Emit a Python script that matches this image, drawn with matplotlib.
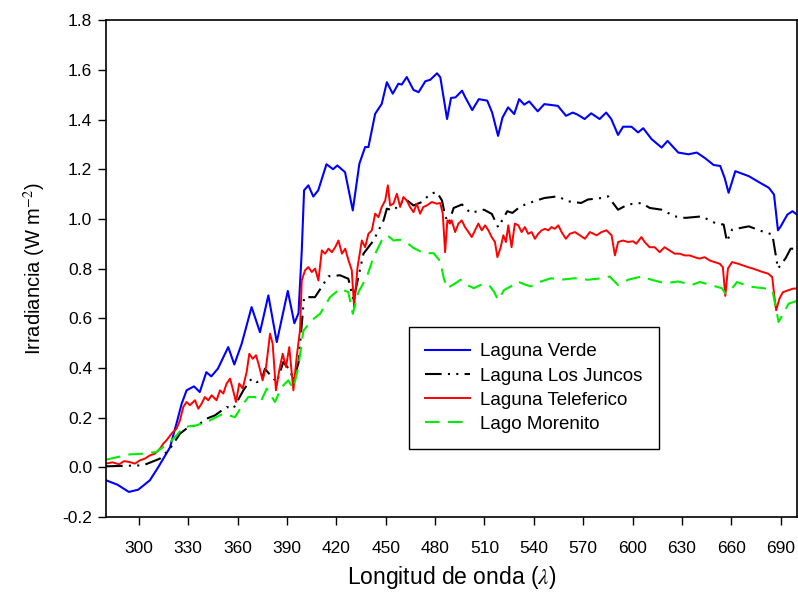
import numpy as np
import matplotlib.pyplot as plt

plt.rcParams['font.family'] = ['Liberation Sans', 'DejaVu Sans']
plt.rcParams['mathtext.fontset'] = 'stix'

# Laguna Verde
wl_verde = [280, 287, 293.9, 299.6, 306.7, 311.7, 318.9, 323, 326, 329, 333.5, 337, 341, 344, 348,
            354.3, 358, 362.5, 368.5, 373.6, 378.7, 383.8, 390.5, 394.5, 397, 399, 400.4, 403, 406,
            409, 414, 418, 420.6, 425.3, 430, 434, 437.5, 439.5, 443.6, 447.6, 450.7, 454.3, 457.7,
            459.8, 462.8, 466.9, 470, 474.1, 477.1, 481.2, 483.2, 487.3, 489.7, 492.4, 496.4, 498.4,
            502.6, 506.6, 511.7, 514.7, 518.3, 521, 524.4, 528.1, 531.1, 534.2, 537.2, 542.4, 546.4,
            554.6, 559.6, 563.7, 566.8, 570.9, 574.9, 580, 584, 587.1, 591.2, 594.3, 599.4, 603.4,
            606.5, 611.6, 617.7, 621.3, 627.8, 634, 639.1, 644.2, 649.3, 653.3, 656, 658.4, 662.5,
            670.7, 675.8, 682.9, 686, 688.4, 690.1, 694.1, 697.2, 700]
irr_verde = [-0.052, -0.07, -0.099, -0.09, -0.052, 0.0, 0.08, 0.18, 0.256, 0.31, 0.326, 0.303, 0.383,
             0.366, 0.397, 0.484, 0.414, 0.498, 0.645, 0.544, 0.692, 0.504, 0.71, 0.58, 0.62, 0.873,
             1.115, 1.135, 1.09, 1.115, 1.22, 1.20, 1.215, 1.188, 1.034, 1.222, 1.289, 1.289, 1.423,
             1.463, 1.55, 1.504, 1.544, 1.541, 1.571, 1.519, 1.51, 1.554, 1.56, 1.586, 1.57, 1.402,
             1.487, 1.489, 1.516, 1.489, 1.438, 1.482, 1.476, 1.428, 1.334, 1.408, 1.449, 1.422, 1.482,
             1.46, 1.473, 1.433, 1.462, 1.455, 1.415, 1.428, 1.419, 1.402, 1.425, 1.402, 1.428, 1.402,
             1.338, 1.371, 1.371, 1.348, 1.365, 1.321, 1.287, 1.314, 1.267, 1.26, 1.267, 1.244, 1.217,
             1.213, 1.165, 1.105, 1.192, 1.172, 1.152, 1.125, 1.098, 0.954, 0.97, 1.017, 1.031, 1.017]

# Laguna Los Juncos
wl_juncos = [280, 302.6, 312.8, 318.9, 325, 329, 337.1, 341.2, 346.2, 353.3, 357.4, 363.5, 368.5,
             371.6, 374.6, 376.6, 380, 383.8, 387.8, 391.9, 393.9, 397, 400.4, 407, 410.5, 415.2,
             422.3, 427.3, 430.4, 436.5, 442.6, 448.7, 450.7, 454.8, 461.8, 466.9, 472, 477.1, 481.1,
             484.2, 486.2, 488.3, 491.3, 496.4, 501.5, 509.7, 514.5, 518.4, 523.9, 527, 532.1, 540.2,
             546.4, 554.6, 560.6, 568.8, 572.9, 581, 585.1, 591.2, 597.3, 605.4, 610.5, 617.7, 625.8,
             632, 642.1, 650.3, 655.4, 657.4, 660.5, 670.7, 678.8, 685, 688.4, 693.1, 696.1, 700]
irr_juncos = [0.004, 0.008, 0.035, 0.075, 0.136, 0.156, 0.176, 0.196, 0.209, 0.243, 0.236, 0.31,
              0.357, 0.343, 0.35, 0.397, 0.37, 0.343, 0.424, 0.39, 0.35, 0.42, 0.685, 0.685, 0.72,
              0.769, 0.773, 0.759, 0.675, 0.86, 0.913, 0.994, 1.041, 1.034, 1.081, 1.054, 1.068,
              1.101, 1.108, 1.074, 1.01, 0.983, 1.044, 1.058, 1.024, 1.037, 1.02, 0.966, 1.031, 1.024,
              1.051, 1.071, 1.084, 1.091, 1.071, 1.064, 1.078, 1.084, 1.091, 1.037, 1.058, 1.064,
              1.044, 1.037, 1.01, 1.004, 1.01, 0.983, 0.977, 0.909, 0.957, 0.97, 0.95, 0.937, 0.80,
              0.842, 0.88, 0.88]

# Laguna Teleferico
wl_tele = [280, 284, 288, 291, 294.5, 297.6, 300.6, 303.6, 306.7, 309.7, 312.8, 314.8, 316.8, 319.9,
           322.9, 325, 327, 329, 331, 334.1, 336.1, 338.1, 340.1, 342.2, 344.2, 347.2, 349.3, 351.3,
           353.3, 355.4, 357, 359, 361, 363.1, 365.5, 367.1, 369.2, 371.2, 373.2, 375.2, 377.3,
           379.7, 381.3, 383.3, 385.3, 387.4, 389.4, 391.4, 393.9, 395.9, 397.9, 399, 401, 403,
           405.1, 407.1, 409.1, 411.2, 413.2, 415.2, 417.3, 419.3, 421.3, 423.4, 425.4, 427.4,
           429.4, 430.8, 432.9, 435.5, 437.5, 439.5, 441.6, 443.6, 445.6, 447.6, 449.7, 451.3,
           452.7, 454.7, 456.8, 458.8, 460.8, 462.8, 464.8, 466.9, 468.9, 470.9, 472.9, 475, 478,
           481.1, 483.1, 484.7, 486.1, 487.5, 489.1, 490.1, 492.2, 494.2, 496.2, 498.2, 500.3,
           502.3, 504.3, 506.3, 508.4, 510.4, 512.4, 514.4, 516.4, 517.9, 519.9, 521.5, 523.1,
           524.5, 526.5, 528.5, 530.6, 532.6, 534.6, 536.6, 538.7, 540.7, 542.7, 544.8, 546.8,
           548.8, 550.8, 552.8, 554.9, 556.9, 559.5, 561.9, 565, 568, 571.1, 574.1, 578.2, 581.2,
           584.2, 587.3, 589.3, 591.3, 594.2, 597.2, 600.3, 602.3, 605.4, 607.4, 610.4, 613.5,
           616.5, 619.5, 622.6, 625.6, 628.6, 631.7, 634.7, 637.7, 640.8, 643.8, 646.8, 649.9,
           652.9, 654.9, 656.4, 658, 660.5, 664, 667.1, 670.1, 673.2, 676.2, 679.2, 682.3, 684.9,
           686.3, 687.3, 689.3, 691.4, 694.4, 697.4, 700]
irr_tele = [0.015, 0.02, 0.012, 0.025, 0.021, 0.015, 0.028, 0.035, 0.048, 0.055, 0.075, 0.095,
            0.109, 0.136, 0.156, 0.19, 0.243, 0.263, 0.25, 0.27, 0.236, 0.256, 0.283, 0.27, 0.29,
            0.27, 0.31, 0.297, 0.337, 0.357, 0.317, 0.263, 0.337, 0.317, 0.384, 0.457, 0.437,
            0.451, 0.404, 0.35, 0.404, 0.538, 0.498, 0.31, 0.39, 0.457, 0.404, 0.484, 0.31, 0.444,
            0.551, 0.753, 0.793, 0.806, 0.786, 0.80, 0.752, 0.873, 0.86, 0.88, 0.866, 0.886, 0.913,
            0.86, 0.88, 0.833, 0.793, 0.645, 0.806, 0.913, 0.886, 0.94, 0.954, 1.021, 1.007, 1.048,
            1.074, 1.135, 1.054, 1.061, 1.101, 1.048, 1.088, 1.074, 1.048, 1.027, 1.061, 1.021,
            1.048, 1.054, 1.068, 1.061, 1.064, 1.021, 0.866, 0.994, 0.981, 0.994, 0.947, 0.981,
            0.994, 0.967, 0.947, 0.927, 0.954, 0.981, 0.954, 0.974, 0.954, 0.927, 0.907, 0.846,
            0.886, 0.934, 0.907, 0.974, 0.886, 0.981, 0.974, 0.947, 0.967, 0.94, 0.947, 0.92, 0.94,
            0.954, 0.96, 0.954, 0.967, 0.96, 0.974, 0.947, 0.92, 0.94, 0.947, 0.934, 0.92, 0.947,
            0.934, 0.947, 0.954, 0.934, 0.853, 0.907, 0.913, 0.907, 0.91, 0.9, 0.927, 0.907, 0.886,
            0.886, 0.866, 0.886, 0.873, 0.86, 0.86, 0.853, 0.853, 0.846, 0.84, 0.846, 0.833, 0.826,
            0.82, 0.806, 0.69, 0.80, 0.826, 0.82, 0.813, 0.806, 0.80, 0.793, 0.786, 0.78, 0.766,
            0.685, 0.632, 0.679, 0.705, 0.712, 0.719, 0.72]

# Lago Morenito
wl_more = [280, 294.5, 302.6, 310.7, 318.9, 323, 327, 335.1, 343.2, 351.3, 358.4, 363.5, 366.5,
           370.6, 374, 377.7, 382.7, 386.8, 390.8, 393.9, 396.9, 400, 405.1, 410.1, 416.2, 422.3,
           427.3, 430, 433.4, 438.5, 442.6, 447.6, 451, 454.8, 458.8, 461.8, 467, 473, 479.1, 483.2,
           485.3, 487.3, 492.4, 495.5, 499.5, 503.6, 507.7, 512.8, 515.8, 518.3, 522, 526, 530.1,
           534.2, 538.3, 544.4, 550.5, 556.6, 564.7, 572.9, 581, 586.1, 591.2, 597.3, 605.4, 611.6,
           619.7, 627.8, 636, 641, 654.3, 656.4, 660.5, 663.5, 670.7, 681.8, 685, 688.8, 694.9, 700]
irr_more = [0.031, 0.052, 0.055, 0.062, 0.102, 0.129, 0.162, 0.169, 0.189, 0.216, 0.202, 0.256,
            0.283, 0.283, 0.263, 0.317, 0.263, 0.323, 0.35, 0.317, 0.404, 0.55, 0.592, 0.618, 0.685,
            0.719, 0.705, 0.618, 0.705, 0.766, 0.846, 0.913, 0.934, 0.913, 0.916, 0.909, 0.883,
            0.862, 0.862, 0.829, 0.761, 0.721, 0.741, 0.755, 0.734, 0.721, 0.734, 0.734, 0.707,
            0.674, 0.714, 0.728, 0.748, 0.737, 0.728, 0.748, 0.761, 0.755, 0.761, 0.755, 0.761,
            0.768, 0.734, 0.755, 0.768, 0.755, 0.741, 0.748, 0.734, 0.746, 0.721, 0.70, 0.72, 0.746,
            0.728, 0.719, 0.714, 0.585, 0.659, 0.67]

fig = plt.figure(figsize=(7.98, 6.03), dpi=100)
ax = fig.add_axes([0.1328, 0.1426, 0.866, 0.824])

ax.plot(wl_verde, irr_verde, color='#0000ff', lw=1.5, label='Laguna Verde')
ax.plot(wl_juncos, irr_juncos, color='black', lw=1.5, dashes=(8, 3, 1, 3, 1, 3),
        label='Laguna Los Juncos')
ax.plot(wl_tele, irr_tele, color='#ff0000', lw=1.4, label='Laguna Teleferico')
ax.plot(wl_more, irr_more, color='#00ee00', lw=1.5, dashes=(7, 4), label='Lago Morenito')

ax.set_xlim(280, 700)
ax.set_ylim(-0.2, 1.8)
ax.set_xticks(np.arange(300, 691, 30))
ax.set_yticks(np.arange(-0.2, 1.81, 0.2))
ax.yaxis.set_major_formatter(plt.FormatStrFormatter('%.1f'))
ax.tick_params(direction='out', length=6, width=1, labelsize=12.5, pad=4)
ax.tick_params(axis='x', pad=11)
for s in ax.spines.values():
    s.set_linewidth(1.2)

ax.set_xlabel(r'Longitud de onda ($\lambda$)', fontsize=16.5, labelpad=6)
ax.set_ylabel(r'Irradiancia (W m$^{-2}$)', fontsize=14.5, labelpad=10)

leg = ax.legend(loc='upper left', bbox_to_anchor=(0.4385, 0.382), borderaxespad=0,
                fontsize=13.5, frameon=True, fancybox=False, edgecolor='black',
                framealpha=1, borderpad=0.85, handlelength=2.4, handletextpad=0.55,
                labelspacing=0.38)
leg.get_frame().set_linewidth(1.0)

fig.savefig('out.png', dpi=100)
